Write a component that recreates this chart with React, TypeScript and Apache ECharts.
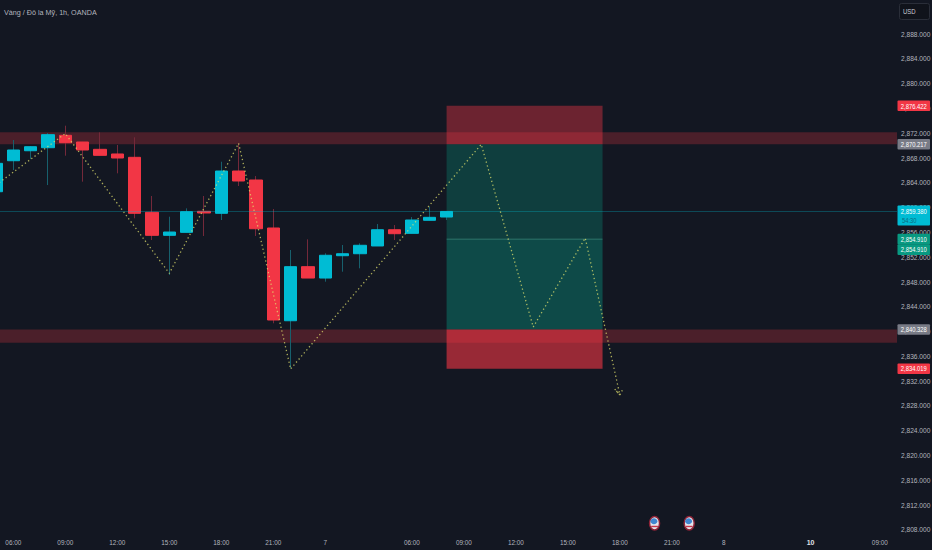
import React, { useEffect, useRef } from "react";
import * as echarts from "echarts";

const BG = "#131722";
const FONT = '"Liberation Sans", sans-serif';

// slot, open, close, low, high
const slots = [0,1,2,3,4,5,6,7,8,9,10,11,12,13,14,15,16,17,18,19,20,21,22,23,24,25,26];
const opens = [2862.56,2867.56,2869.17,2869.66,2871.66,2870.58,2869.40,2868.65,2868.11,2859.24,2855.53,2856.01,2859.40,2859.08,2865.90,2864.45,2856.71,2841.75,2850.47,2848.64,2852.24,2852.56,2853.81,2856.43,2855.85,2857.95,2858.48];
const closes = [2867.14,2869.29,2869.82,2871.76,2870.47,2869.29,2868.43,2868.00,2859.08,2855.53,2856.06,2859.34,2859.13,2865.90,2864.29,2856.59,2841.87,2850.47,2848.64,2852.31,2852.56,2853.92,2856.43,2855.79,2858.00,2858.43,2859.38];
const lows = [2862.40,2866.06,2867.84,2863.64,2868.37,2864.18,2868.43,2865.53,2858.27,2854.77,2849.13,2856.01,2855.42,2858.00,2863.48,2855.42,2841.34,2834.08,2848.64,2848.05,2849.66,2850.21,2853.81,2854.77,2855.85,2857.95,2858.00];
const highs = [2867.50,2870.90,2869.90,2872.03,2873.21,2870.60,2872.14,2870.10,2871.34,2861.87,2858.53,2859.88,2861.87,2867.40,2870.37,2865.09,2859.77,2853.16,2854.88,2852.63,2853.97,2854.24,2857.35,2857.19,2858.48,2860.14,2859.38];

const pathSlots = [0,4,10,14,17,28,31,34,36,35.7,36,36.2];
const pathPrices = [2863.64,2871.95,2849.40,2870.37,2833.97,2870.2,2840.74,2855.10,2829.77,2830.74,2829.77,2830.9];

const upperZone = [2872.15, 2870.217];
const lowerZone = [2840.328, 2838.2];
const lastPrice = 2859.38;
const positionSlots = [26, 35];
const positionStop = 2876.422;
const positionEntry = 2870.217;
const positionMid = 2854.91;
const positionTarget = 2840.328;
const positionFar = 2834.019;

const xTickSlots = [1,4,7,10,13,16,19,24,27,30,33,36,39,42,47,51];
const xTickLabels = ["06:00","09:00","12:00","15:00","18:00","21:00","7","06:00","09:00","12:00","15:00","18:00","21:00","8","10","09:00"];
const yTicks = [2888,2884,2880,2876,2872,2868,2864,2860,2856,2852,2848,2844,2840,2836,2832,2828,2824,2820,2816,2812,2808];

const tagPrices = [2876.422, 2870.217, 2859.38, 2854.91, 2854.91, 2840.328, 2834.019];
const tagLabels = ["2,876.422","2,870.217","2,859.380","2,854.910","2,854.910","2,840.328","2,834.019"];
const tagColors = ["#f23645","#787b86","#00bcd4","#089981","#089981","#787b86","#f23645"];

const eventSlots = [38, 40];
const eventPrices = [2809.1, 2809.1];

const candleData = slots.map((s, i) => [s, opens[i], closes[i], lows[i], highs[i]]);
const bodyData = slots.map((s, i) => [s, opens[i], closes[i], Math.min(opens[i], closes[i]), Math.max(opens[i], closes[i])]);
const pathData = pathSlots.map((s, i) => [s, pathPrices[i]]);

function area(x0: number, x1: number, y0: number, y1: number, color: string) {
  return [{ coord: [x0, y0], itemStyle: { color } }, { coord: [x1, y1] }];
}
function band(y0: number, y1: number) {
  return [{ yAxis: y0 }, { yAxis: y1 }];
}

export default function App() {
  const ref = useRef<HTMLDivElement>(null);
  useEffect(() => {
    const chart = echarts.init(ref.current!, null, { renderer: "svg" });
    chart.setOption({
      animation: false,
      backgroundColor: BG,
      title: {
        text: "Vàng / Đô la Mỹ, 1h, OANDA",
        left: 4,
        top: 9,
        padding: 0,
        textStyle: { color: "#b2b5be", fontSize: 7.2, fontWeight: "normal", fontFamily: FONT },
      },
      grid: { left: 0, right: 35, top: 0, bottom: 17, outerBoundsMode: "none" },
      xAxis: {
        type: "value",
        min: 0.2308,
        max: 51.99,
        axisLine: { show: false },
        axisTick: { show: false },
        splitLine: { show: false },
        axisLabel: {
          customValues: xTickSlots,
          margin: 6,
          color: "#b2b5be",
          fontSize: 6.4,
          fontFamily: FONT,
          showMinLabel: true,
          showMaxLabel: true,
          hideOverlap: false,
          formatter: (v: number) => {
            const t = xTickLabels[xTickSlots.indexOf(v)];
            return t === "10" ? "{b|10}" : t;
          },
          rich: { b: { color: "#e0e3eb", fontSize: 7, fontWeight: "bold", fontFamily: FONT } },
        },
      },
      yAxis: {
        type: "value",
        position: "right",
        min: 2807.516,
        max: 2893.484,
        axisLine: { show: false },
        axisTick: { show: false },
        splitLine: { show: false },
        axisLabel: {
          customValues: yTicks,
          margin: 4,
          align: "left",
          color: "#b2b5be",
          fontSize: 6.6,
          fontFamily: FONT,
          showMinLabel: true,
          showMaxLabel: true,
          formatter: (v: number) =>
            v.toLocaleString("en-US", { minimumFractionDigits: 3, maximumFractionDigits: 3 }),
        },
      },
      graphic: [
        { type: "rect", z: 10, shape: { x: 898, y: 533, width: 34, height: 17 }, style: { fill: BG } },
        { type: "rect", z: 10, shape: { x: 899.5, y: 3.5, width: 30, height: 16, r: 2 }, style: { fill: "#10131b", stroke: "#2a2e39", lineWidth: 1 } },
        { type: "text", z: 11, x: 903, y: 11, scaleX: 0.8, style: { text: "USD", fill: "#c8cbd3", font: `7.5px ${FONT}`, textVerticalAlign: "middle" } },
      ],
      series: [
        {
          type: "line",
          data: [],
          z: 1,
          silent: true,
          markArea: {
            silent: true,
            itemStyle: { color: "rgba(242,54,69,0.25)", borderWidth: 0 },
            data: [band(upperZone[0], upperZone[1]), band(lowerZone[0], lowerZone[1])],
          },
        },
        {
          type: "line",
          data: [],
          z: 1,
          silent: true,
          markArea: {
            silent: true,
            itemStyle: { borderWidth: 0 },
            data: [
              area(positionSlots[0], positionSlots[1], positionStop, positionEntry, "rgba(242,54,69,0.4)"),
              area(positionSlots[0], positionSlots[1], positionEntry, positionMid, "rgba(8,153,129,0.3)"),
              area(positionSlots[0], positionSlots[1], positionMid, positionTarget, "rgba(8,153,129,0.4)"),
              area(positionSlots[0], positionSlots[1], positionTarget, positionFar, "rgba(242,54,69,0.6)"),
            ],
          },
        },
        {
          type: "line",
          data: [],
          z: 1,
          silent: true,
          markLine: {
            silent: true,
            symbol: "none",
            label: { show: false },
            lineStyle: { color: "rgba(0,188,212,0.3)", width: 1, type: "solid" },
            data: [{ yAxis: lastPrice }],
          },
        },
        {
          type: "line",
          data: [[positionSlots[0], positionMid], [positionSlots[1], positionMid]],
          z: 2,
          silent: true,
          showSymbol: false,
          lineStyle: { color: "rgba(80,170,150,0.5)", width: 1 },
        },
        {
          type: "candlestick",
          data: candleData,
          encode: { x: 0, y: [1, 2, 3, 4] },
          barWidth: 1,
          silent: true,
          z: 3,
          itemStyle: { color: "#17606d", color0: "#74293a", borderColor: "#17606d", borderColor0: "#74293a", borderWidth: 1 },
        },
        {
          type: "candlestick",
          data: bodyData,
          encode: { x: 0, y: [1, 2, 3, 4] },
          barWidth: 13,
          silent: true,
          z: 4,
          itemStyle: { color: "#00bcd4", color0: "#f23645", borderColor: "#00bcd4", borderColor0: "#f23645", borderWidth: 1 },
        },
        {
          type: "line",
          data: pathData,
          z: 5,
          silent: true,
          showSymbol: false,
          lineStyle: { color: "rgba(226,226,110,0.75)", width: 1.3, type: [1.3, 2.7] },
        },
        {
          type: "custom",
          data: eventSlots.map((s, i) => [s, eventPrices[i]]),
          encode: { x: 0, y: 1 },
          silent: true,
          z: 6,
          renderItem: (_: any, api: any) => {
            const [cx, cy] = api.coord([api.value(0), api.value(1)]);
            return {
              type: "group",
              children: [
                { type: "ellipse", shape: { cx, cy, rx: 5, ry: 6.8 }, style: { fill: "#e4e6ec", stroke: "#8d2236", lineWidth: 1.5 } },
                { type: "ellipse", shape: { cx: cx - 0.6, cy: cy - 2, rx: 3.4, ry: 3 }, style: { fill: "#3f86d0" } },
                { type: "rect", shape: { x: cx - 3.4, y: cy + 2.6, width: 6.8, height: 1.4 }, style: { fill: "#c8354a" } },
              ],
            };
          },
        },
        {
          type: "custom",
          data: tagPrices.map((p, i) => [i, p]),
          encode: { x: 0, y: 1 },
          silent: true,
          z: 7,
          clip: false,
          renderItem: (_: any, api: any) => {
            const i = api.value(0);
            const base = api.coord([1, api.value(1)])[1];
            const y = i === 4 ? base + 10.5 : base;
            const isLast = i === 2;
            const top = isLast ? y - 6 : y - 5.3;
            const h = isLast ? 20 : 10.6;
            const x0 = 897.5;
            const w = 32.5;
            const kids: any[] = [
              { type: "rect", shape: { x: x0, y: top, width: w, height: h, r: 1 }, style: { fill: tagColors[i] } },
              {
                type: "text",
                x: x0 + w / 2,
                y,
                scaleX: 0.78,
                style: { text: tagLabels[i], fill: "#ffffff", font: `7.5px ${FONT}`, textAlign: "center", textVerticalAlign: "middle" },
              },
            ];
            if (isLast) {
              kids.push({
                type: "text",
                x: 902,
                y: y + 8.5,
                scaleX: 0.78,
                style: { text: "54:30", fill: "#0b6d80", font: `7.5px ${FONT}`, textVerticalAlign: "middle" },
              });
            }
            return { type: "group", children: kids };
          },
        },
      ],
    });
    return () => chart.dispose();
  }, []);
  return (
    <div
      ref={ref}
      style={{ position: "fixed", left: 0, top: 0, width: 932, height: 550, background: BG }}
    />
  );
}
